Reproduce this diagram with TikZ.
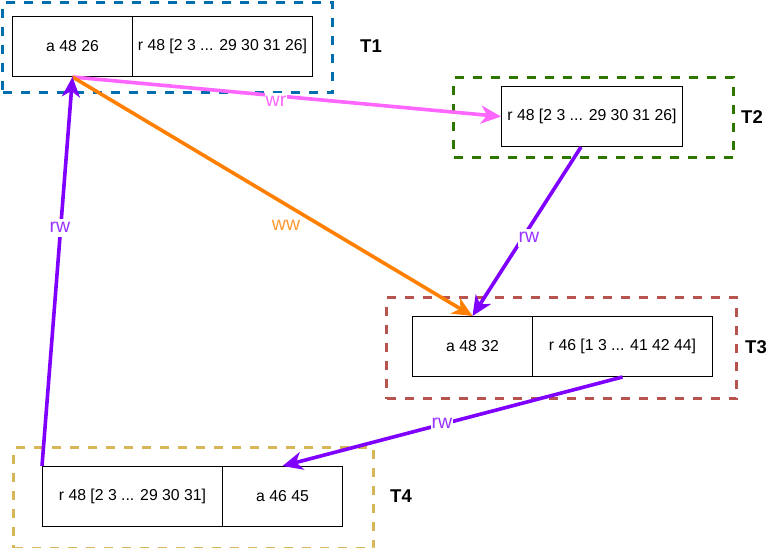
\documentclass[tikz,border=0pt]{standalone}
\usepackage{fontspec}
\setmainfont{Liberation Sans}
\usetikzlibrary{arrows.meta,calc}
\definecolor{gblue}{HTML}{006EAF}
\definecolor{ggreen}{HTML}{2D7600}
\definecolor{gred}{HTML}{B85450}
\definecolor{gyellow}{HTML}{D6B656}
\definecolor{cpink}{HTML}{FF66FF}
\definecolor{corange}{HTML}{FF8000}
\definecolor{corangetxt}{HTML}{FF9933}
\definecolor{cpurple}{HTML}{7F00FF}
\definecolor{cpurpletxt}{HTML}{9933FF}
\begin{document}
\begin{tikzpicture}[x=1pt,y=-1pt,
  cell/.style={draw=black, line width=1pt, minimum height=60pt, inner sep=0pt,
    font=\fontsize{15.8}{18}\selectfont, anchor=north west},
  group/.style={draw=#1, line width=3.3pt, dash pattern=on 9pt off 9pt,
    inner sep=0pt, anchor=north west},
  tlabel/.style={font=\fontsize{18.5}{20}\selectfont\bfseries},
  elabel/.style={fill=white, inner sep=0.5pt, text height=13pt, text depth=4pt,
    font=\fontsize{19.5}{22}\selectfont},
  conn/.style={line width=3.6pt, draw=#1, -{Stealth[length=20pt,width=18pt,inset=6pt]}}
]
\useasboundingbox (0,0) rectangle (776,548);
% groups
\node[group=gblue, minimum width=330pt, minimum height=90pt] (g1) at (1,1) {};
\node[group=ggreen, minimum width=280pt, minimum height=80pt] (g2) at (452,76) {};
\node[group=gred, minimum width=350pt, minimum height=101pt] (g3) at (385,296) {};
\node[group=gyellow, minimum width=360pt, minimum height=101pt] (g4) at (12,446) {};
% cells
\node[cell, minimum width=120pt] (a1) at (12,16) {a 48 26};
\node[cell, minimum width=180pt] (r1) at (132,16) {r 48 [2 3 ... 29 30 31 26]};
\node[cell, minimum width=181pt] (r2) at (501,86) {r 48 [2 3 ... 29 30 31 26]};
\node[cell, minimum width=120pt] (a3) at (412,316) {a 48 32};
\node[cell, minimum width=180pt] (r3) at (532,316) {r 46 [1 3 ... 41 42 44]};
\node[cell, minimum width=180pt] (r4) at (42,466) {r 48 [2 3 ... 29 30 31]};
\node[cell, minimum width=120pt] (a4) at (222,466) {a 46 45};
% group labels
\node[tlabel] (t1) at (371,46) {T1};
\node[tlabel] (t2) at (752,117) {T2};
\node[tlabel] (t3) at (756,347) {T3};
\node[tlabel] (t4) at (401,496) {T4};
% connectors
\draw[conn=cpink] (a1.south) -- (r2.west);
\draw[conn=corange] (a1.south) -- (a3.north);
\draw[conn=cpurple] ($(r2.south)+(-11,0)$) -- (a3.north);
\draw[conn=cpurple] (r3.south) -- (a4.north);
\draw[conn=cpurple] (r4.north west) -- (a1.south);
% connector labels
\node[elabel, text=cpink] (lwr) at (276,102) {wr};
\node[elabel, text=corangetxt] (lww) at (286,226) {ww};
\node[elabel, text=cpurpletxt] (lrw1) at (529,238) {rw};
\node[elabel, text=cpurpletxt] (lrw2) at (442,424) {rw};
\node[elabel, text=cpurpletxt] (lrw3) at (60,228) {rw};
\end{tikzpicture}
\end{document}
